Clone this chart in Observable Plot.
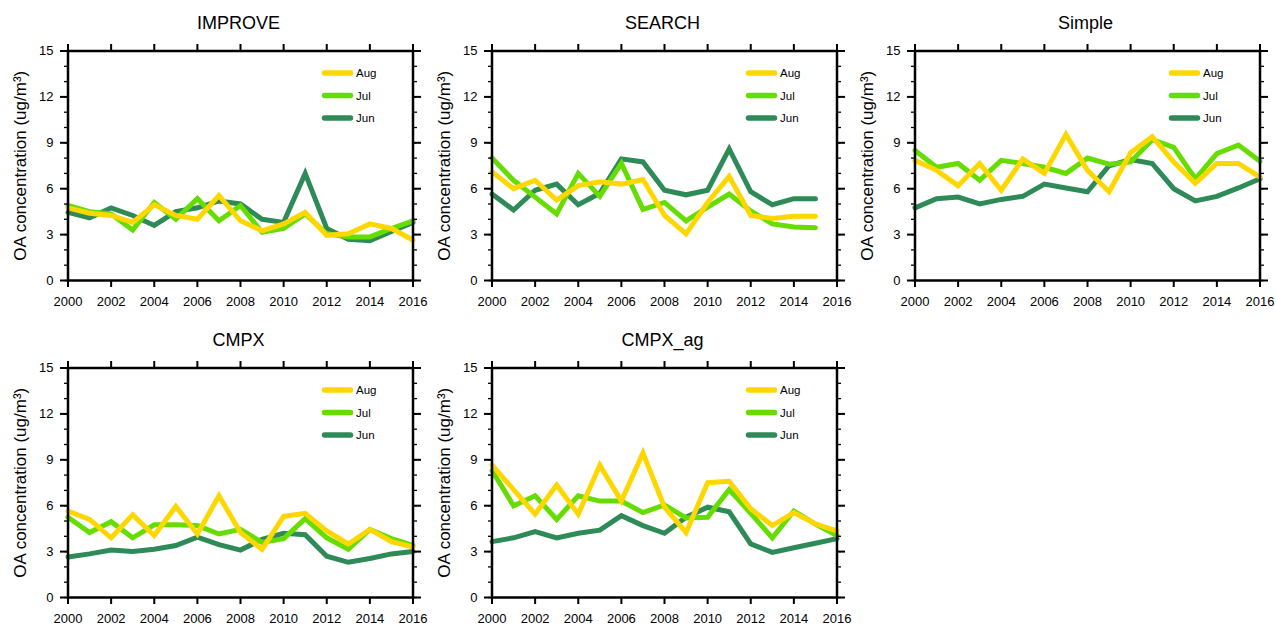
<!DOCTYPE html>
<html>
<head>
<meta charset="utf-8">
<script src="https://cdn.jsdelivr.net/npm/d3@7"></script>
<script src="https://cdn.jsdelivr.net/npm/@observablehq/plot@0.6"></script>
<style>
  html, body { margin: 0; padding: 0; background: #fff; }
  #chart { position: relative; width: 1276px; height: 625px; background: #fff; font-family: "Liberation Sans", Arial, Helvetica, sans-serif; }
  .panel { position: absolute; }
</style>
</head>
<body>
<div id="chart"></div>
<script>
// Summer-mean organic aerosol (OA) concentration by year, per dataset / model configuration
const years = [2000, 2001, 2002, 2003, 2004, 2005, 2006, 2007, 2008, 2009, 2010, 2011, 2012, 2013, 2014, 2015, 2016];
const months = ["Aug", "Jul", "Jun"];
const monthColors = ["#ffd700", "#66dd00", "#2e8b57"];
const panelTitles = ["IMPROVE", "SEARCH", "Simple", "CMPX", "CMPX_ag"];

const improveJun = [4.45, 4.1, 4.75, 4.25, 3.6, 4.5, 4.75, 5.2, 5.0, 4.0, 3.8, 7.0, 3.4, 2.7, 2.6, 3.2, 3.8];
const improveJul = [4.9, 4.5, 4.35, 3.3, 5.1, 4.0, 5.35, 3.9, 4.9, 3.15, 3.4, 4.35, 3.05, 2.85, 2.85, 3.4, 3.9];
const improveAug = [4.75, 4.4, 4.25, 3.8, 4.95, 4.25, 4.0, 5.55, 3.9, 3.25, 3.7, 4.45, 2.95, 3.05, 3.7, 3.4, 2.65];

const searchJun = [5.65, 4.6, 5.9, 6.3, 4.95, 5.7, 7.95, 7.75, 5.9, 5.6, 5.9, 8.6, 5.8, 4.95, 5.35, 5.35];
const searchJul = [8.0, 6.55, 5.45, 4.35, 7.0, 5.5, 7.65, 4.65, 5.1, 3.9, 4.8, 5.65, 4.55, 3.7, 3.5, 3.45];
const searchAug = [7.1, 6.0, 6.55, 5.25, 6.2, 6.45, 6.3, 6.6, 4.25, 3.05, 5.1, 6.8, 4.25, 4.05, 4.2, 4.2];

const simpleJun = [4.75, 5.35, 5.45, 5.0, 5.3, 5.5, 6.3, 6.05, 5.8, 7.5, 7.9, 7.65, 6.0, 5.2, 5.5, 6.05, 6.65];
const simpleJul = [8.5, 7.4, 7.65, 6.55, 7.85, 7.65, 7.4, 7.0, 8.0, 7.6, 7.75, 9.2, 8.7, 6.65, 8.3, 8.85, 7.8];
const simpleAug = [7.85, 7.2, 6.2, 7.65, 5.9, 7.95, 7.0, 9.55, 7.2, 5.8, 8.35, 9.4, 7.75, 6.35, 7.65, 7.65, 6.75];

const cmpxJun = [2.65, 2.85, 3.1, 3.0, 3.15, 3.4, 3.95, 3.45, 3.1, 3.8, 4.2, 4.1, 2.7, 2.3, 2.55, 2.85, 3.0];
const cmpxJul = [5.25, 4.25, 4.95, 3.9, 4.75, 4.75, 4.7, 4.15, 4.45, 3.6, 3.85, 5.15, 3.9, 3.15, 4.45, 3.85, 3.4];
const cmpxAug = [5.65, 5.1, 3.9, 5.4, 4.05, 5.95, 4.15, 6.65, 4.25, 3.15, 5.3, 5.5, 4.35, 3.5, 4.45, 3.65, 3.3];

const cmpxAgJun = [3.65, 3.9, 4.3, 3.9, 4.2, 4.4, 5.35, 4.7, 4.2, 5.25, 5.9, 5.6, 3.5, 2.95, 3.25, 3.55, 3.85];
const cmpxAgJul = [8.3, 6.0, 6.65, 5.1, 6.65, 6.3, 6.3, 5.55, 6.05, 5.2, 5.25, 7.05, 5.5, 3.9, 5.65, 4.8, 4.05];
const cmpxAgAug = [8.65, 7.05, 5.45, 7.35, 5.45, 8.65, 6.3, 9.45, 5.9, 4.25, 7.5, 7.6, 5.8, 4.7, 5.55, 4.8, 4.35];

const yTicks = [0, 3, 6, 9, 12, 15];
const yMinorTicks = [0, 1, 2, 3, 4, 5, 6, 7, 8, 9, 10, 11, 12, 13, 14, 15];
const xTicks = [2000, 2002, 2004, 2006, 2008, 2010, 2012, 2014, 2016];
const yLabel = "OA concentration (ug/m\u00b3)";

const panelSeries = [
  {Jun: improveJun, Jul: improveJul, Aug: improveAug},
  {Jun: searchJun, Jul: searchJul, Aug: searchAug},
  {Jun: simpleJun, Jul: simpleJul, Aug: simpleAug},
  {Jun: cmpxJun, Jul: cmpxJul, Aug: cmpxAug},
  {Jun: cmpxAgJun, Jul: cmpxAgJul, Aug: cmpxAgAug}
];

// Page layout of the five panels (3 on top, 2 below)
const panelPos = [
  {left: 0, top: 0}, {left: 423.5, top: 0}, {left: 846.5, top: 0},
  {left: 0, top: 316.5}, {left: 423.5, top: 316.5}
];
const W = 425, H = 312;
const mL = 67.5, mR = 12.5, mT = 50.5, mB = 32;

const font = "Liberation Sans, Arial, Helvetica, sans-serif";

// Legend drawn inside the top-right corner of each frame
function legendMark(index, scales, values, dims) {
  const g = d3.create("svg:g").attr("font-family", font).attr("text-anchor", "start");
  const right = dims.width - dims.marginRight;
  const top = dims.marginTop;
  months.forEach((m, i) => {
    const y = top + 22.5 + i * 22.5;
    g.append("line")
      .attr("x1", right - 88).attr("x2", right - 62)
      .attr("y1", y).attr("y2", y)
      .attr("stroke", monthColors[i]).attr("stroke-width", 5.5)
      .attr("stroke-linecap", "round");
    g.append("text")
      .attr("x", right - 56.5).attr("y", y).attr("dy", "0.35em")
      .attr("font-size", 11.5).attr("fill", "#000")
      .attr("text-anchor", "start")
      .text(m);
  });
  return g.node();
}

const chart = document.getElementById("chart");

panelTitles.forEach((title, p) => {
  const series = panelSeries[p];
  // Draw order: Jun underneath, Aug on top
  const rows = [];
  ["Jun", "Jul", "Aug"].forEach(m => {
    series[m].forEach((v, i) => rows.push({year: years[i], value: v, month: m}));
  });

  const plot = Plot.plot({
    width: W,
    height: H,
    marginLeft: mL,
    marginRight: mR,
    marginTop: mT,
    marginBottom: mB,
    style: {background: "transparent", fontFamily: font, overflow: "visible"},
    x: {domain: [2000, 2016]},
    y: {domain: [0, 15]},
    color: {domain: months, range: monthColors},
    marks: [
      Plot.line(rows, {x: "year", y: "value", z: "month", stroke: "month", strokeWidth: 5, strokeLinejoin: "miter", strokeMiterlimit: 3}),
      legendMark,
      // minor y ticks, both sides
      Plot.axisY({ticks: yMinorTicks, tickSize: 3.5, tickFormat: () => "", label: null, strokeWidth: 1.3}),
      Plot.axisY({anchor: "right", ticks: yMinorTicks, tickSize: 3.5, tickFormat: () => "", label: null, strokeWidth: 1.3}),
      // major y ticks
      Plot.axisY({ticks: yTicks, tickSize: 7.5, tickPadding: 7, fontSize: 13, label: null, strokeWidth: 2, tickFormat: d => String(d)}),
      Plot.axisY({anchor: "right", ticks: yTicks, tickSize: 7.5, tickFormat: () => "", label: null, strokeWidth: 2}),
      // x ticks, top and bottom
      Plot.axisX({anchor: "top", ticks: xTicks, tickSize: 7.5, tickFormat: () => "", label: null, strokeWidth: 2}),
      Plot.axisX({ticks: xTicks, tickSize: 7, tickPadding: 9, fontSize: 13, label: null, strokeWidth: 2, tickFormat: d => String(d)}),
      Plot.frame({stroke: "#000", strokeWidth: 2.5}),
      Plot.text([yLabel], {frameAnchor: "left", rotate: -90, dx: -47, fontSize: 17, text: d => d, textAnchor: "middle", lineAnchor: "middle", fill: "#000"}),
      Plot.text([title], {frameAnchor: "top", dy: -22.5, dx: -2, fontSize: 18, text: d => d, textAnchor: "middle", lineAnchor: "bottom", fill: "#000"})
    ]
  });

  const holder = document.createElement("div");
  holder.className = "panel";
  holder.style.left = panelPos[p].left + "px";
  holder.style.top = panelPos[p].top + "px";
  holder.appendChild(plot);
  chart.appendChild(holder);
});
</script>
</body>
</html>
